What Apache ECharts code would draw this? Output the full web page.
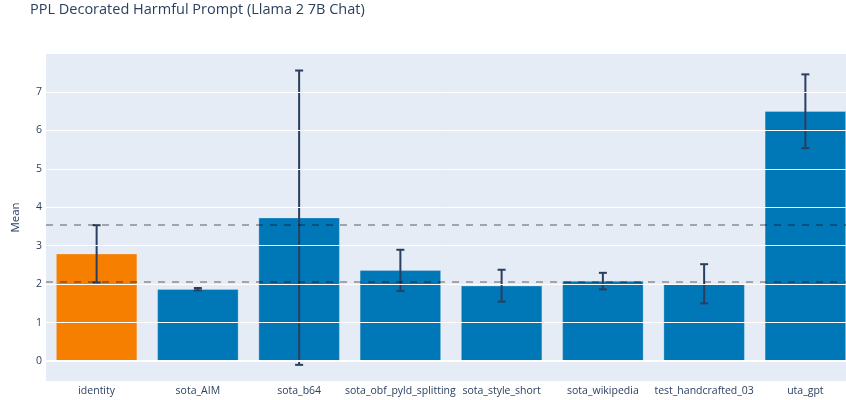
<!DOCTYPE html>
<html>
<head>
<meta charset="utf-8">
<script src="https://cdn.jsdelivr.net/npm/echarts@6/dist/echarts.min.js"></script>
<style>html,body{margin:0;padding:0;background:#fff}#c{width:846px;height:400px}</style>
</head>
<body>
<div id="c"></div>
<script>
const categories = ['identity','sota_AIM','sota_b64','sota_obf_pyld_splitting','sota_style_short','sota_wikipedia','test_handcrafted_03','uta_gpt'];
const means = [2.79, 1.87, 3.73, 2.36, 1.96, 2.08, 2.01, 6.50];
const errors = [0.745, 0.03, 3.83, 0.535, 0.415, 0.215, 0.51, 0.96];
const refLines = [3.54, 2.05];
const gridTicks = [0, 1, 2, 3, 4, 5, 6, 7];

const FONT = 'Open Sans';
const TXT = '#2a3f5f';
const ORANGE = '#f77f00';
const BLUE = '#0077b6';

const chart = echarts.init(document.getElementById('c'));
chart.setOption({
  animation: false,
  textStyle: {fontFamily: FONT},
  title: {
    text: 'PPL Decorated Harmful Prompt (Llama 2 7B Chat)',
    left: 30, top: 2, padding: 0,
    textStyle: {fontFamily: FONT, fontSize: 14.5, fontWeight: 'normal', color: TXT}
  },
  grid: {left: 46, width: 810, top: 54, bottom: 19, show: true, backgroundColor: '#E5ECF6', borderWidth: 0, containLabel: false, outerBoundsMode: 'none'},
  xAxis: {
    type: 'category',
    data: categories,
    axisLine: {show: false},
    axisTick: {show: false},
    axisLabel: {color: TXT, fontSize: 10.5, fontFamily: FONT, margin: 5, interval: 0}
  },
  yAxis: {
    type: 'value',
    min: -0.52, max: 7.99,
    minInterval: 1, maxInterval: 1,
    name: 'Mean',
    nameLocation: 'middle',
    nameGap: 24,
    nameTextStyle: {color: TXT, fontSize: 11.5, fontFamily: FONT},
    axisLine: {show: false},
    axisTick: {show: false},
    splitLine: {show: false},
    axisLabel: {color: TXT, fontSize: 10.5, fontFamily: FONT, margin: 4, showMinLabel: false, showMaxLabel: false}
  },
  series: [
    {
      type: 'line',
      data: [],
      silent: true,
      markLine: {
        silent: true, symbol: 'none', label: {show: false}, animation: false,
        data: gridTicks.map(v => ({yAxis: v, lineStyle: {color: '#ffffff', width: v === 0 ? 2 : 1, type: 'solid'}}))
      },
      z: 1
    },
    {
      type: 'bar',
      data: means.map((v, i) => ({value: v, itemStyle: {color: i === 0 ? ORANGE : BLUE}})),
      barCategoryGap: '20%',
      itemStyle: {borderColor: 'rgba(229,236,246,0.6)', borderWidth: 0.5},
      z: 2
    },
    {
      type: 'custom',
      data: means.map((m, i) => [i, m - errors[i], m + errors[i]]),
      renderItem: function (params, api) {
        const x = api.value(0);
        const lo = api.coord([x, api.value(1)]);
        const hi = api.coord([x, api.value(2)]);
        const w = 4;
        const st = {stroke: '#2a3f5f', lineWidth: 2};
        return {
          type: 'group',
          children: [
            {type: 'line', shape: {x1: lo[0], y1: lo[1], x2: hi[0], y2: hi[1]}, style: st},
            {type: 'line', shape: {x1: hi[0] - w, y1: hi[1], x2: hi[0] + w, y2: hi[1]}, style: st},
            {type: 'line', shape: {x1: lo[0] - w, y1: lo[1], x2: lo[0] + w, y2: lo[1]}, style: st}
          ]
        };
      },
      z: 3
    },
    {
      type: 'line',
      data: [],
      silent: true,
      markLine: {
        silent: true, symbol: 'none', label: {show: false}, animation: false,
        data: refLines.map(v => ({yAxis: v})),
        lineStyle: {color: 'rgba(0,0,0,0.3)', width: 2, type: [7, 7]}
      },
      z: 4
    }
  ]
});
</script>
</body>
</html>
